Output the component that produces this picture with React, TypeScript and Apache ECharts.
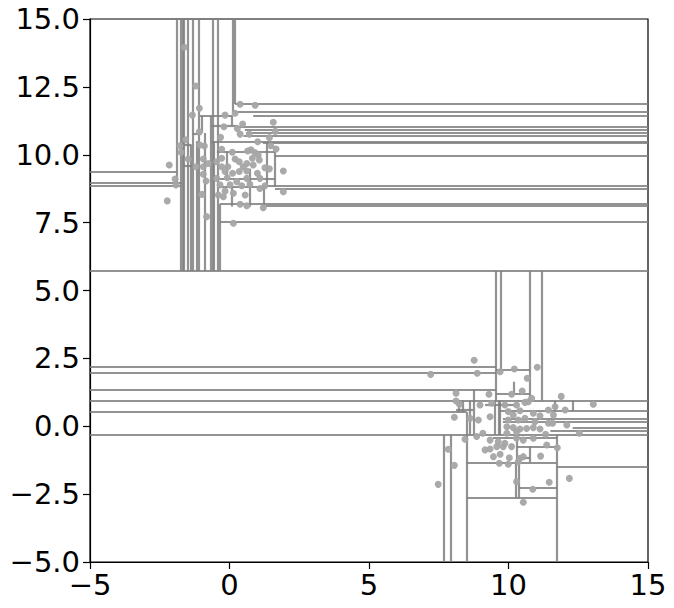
import React, { useEffect, useRef } from "react";
import * as echarts from "echarts";

// Isolation-forest style split lines: horizontal [y, x1, x2], vertical [x, y1, y2]
const hSplits: number[][] = [
  [5.72, -5, 15],
  // upper-left
  [9.38, -5, -1.89], [8.97, -5, -1.72], [8.85, -5, -1.75],
  // upper-right long
  [11.87, 0.2, 15], [11.58, 0.11, 15], [11.44, 0.85, 15], [11.02, 0.3, 15],
  [10.91, 0.55, 15], [10.81, 0.6, 15], [10.69, 0.5, 15], [10.48, 1.33, 15],
  [10.44, 1.2, 15], [9.95, 1.63, 15], [8.86, 1.2, 15], [8.75, 1.63, 15],
  [8.19, -0.34, 15], [8.11, 1.3, 15], [7.53, -0.34, 15],
  // upper internal
  [11.43, -1.06, 0.11], [11.06, -0.64, 0.3], [10.48, -0.64, 1.33],
  [10.11, -0.45, 1.63], [9.13, -0.45, 1.63], [8.82, -0.42, 1.2],
  [10.38, -1.7, -1.38], [10.76, -1.32, -1.0], [9.6, -1.63, -1.32],
  // lower-left
  [2.19, -5, 9.55], [1.97, -5, 9.55], [1.35, -5, 9.55], [0.94, -5, 15],
  [0.52, -5, 8.5], [-0.32, -5, 15],
  // lower internal / right
  [2.07, 9.55, 10.77], [1.19, 9.55, 10.77], [0.56, 9.7, 15], [0.27, 9.8, 15],
  [0.17, 9.8, 15], [-0.04, 12.3, 15], [-0.16, 11.5, 15], [-1.49, 11.73, 15],
  [-1.33, 8.5, 11.73], [-2.65, 8.5, 11.73], [-2.26, 10.38, 11.73],
  [0.78, 9.16, 10.23], [-0.43, 9.44, 11.73], [-0.75, 10.29, 11.73],
  [-1.17, 10.29, 10.77], [0.6, 8.12, 8.74],
];

const vSplits: number[][] = [
  // upper
  [-1.89, 8.85, 15], [-1.75, 5.72, 15], [-1.69, 5.72, 15], [-1.63, 5.72, 15],
  [-1.51, 5.72, 15], [-1.38, 5.72, 10.38], [-1.32, 5.72, 15], [-1.17, 5.72, 10.5],
  [-1.09, 5.72, 15], [-0.9, 5.72, 10.8], [-0.66, 5.72, 11.43], [-0.6, 5.72, 15],
  [-0.56, 5.72, 10.48], [-0.42, 5.72, 15], [-0.34, 5.72, 8.19], [0.11, 11.58, 15],
  [0.2, 11.87, 15],
  [1.33, 8.82, 10.48], [1.63, 8.82, 10.11], [0.73, 8.82, 9.49], [-0.1, 9.13, 10.11],
  [0.08, 8.09, 8.82], [0.73, 8.09, 8.82], [1.21, 8.09, 8.82], [0.08, 11.06, 11.43],
  [-1.0, 10.81, 11.43],
  // lower
  [9.55, 0.94, 5.72], [9.72, 2.07, 5.72], [10.77, 0.94, 5.72], [11.19, 0.94, 5.72],
  [10.2, 1.19, 1.64], [7.69, -5, -0.32], [7.93, -5, -0.32], [8.5, -5, 0.52],
  [11.73, -5, -0.32], [10.27, -2.65, -1.33], [10.38, -2.65, -1.33],
  [8.74, -0.32, 1.35], [9.52, -0.32, 0.94], [9.66, -0.32, 0.94], [9.7, -0.32, 0.94],
  [10.29, -1.33, -0.32], [10.77, -1.33, -0.75], [12.31, 0.56, 0.94], [11.67, 0.56, 0.94],
  [8.2, 0.52, 0.94], [8.35, 0.52, 0.94], [8.62, -0.32, 0.94],
];

const upperX = [
  -1.62, -1.21, -1.08, -1.33, 0.38, 0.92, 0.2, -0.16, 1.57, 0.47, -0.2, 0.28, 1.64, -1.08,
  -0.32, 0.38, 0.71, 1.01, 1.43, -1.57, -1.06, -0.9, -1.77, -0.28, 0.1, 0.65, 0.77, 0.91,
  1.03, 1.48, 1.67, -1.74, -1.48, -0.94, -0.28, 0.2, 0.35, 0.62, 0.82, 1.07, -0.76, -0.46,
  -2.16, -1.2, -0.94, -0.28, -0.06, 0.49, 0.85, 1.43, 1.93, -0.16, 0.11, 0.35, 0.62, 1.0,
  1.27, -0.94, -1.95, -0.84, -0.46, -0.08, 0.26, 0.62, 1.09, -1.92, -0.34, 0.02, 0.44, 0.73,
  1.09, 1.27, 1.93, -0.16, -0.99, -0.4, -0.22, 0.14, 0.56, -2.23, 0.38, 0.62, 1.21, -0.82, 0.14,
];
const upperY = [
  13.96, 12.53, 11.71, 11.46, 11.86, 11.82, 11.53, 11.46, 11.2, 11.13, 11.03, 10.97, 10.86, 10.85,
  10.64, 10.76, 10.76, 10.48, 10.63, 10.55, 10.36, 10.32, 10.33, 10.2, 10.09, 10.14, 10.18, 10.08,
  9.99, 10.33, 10.21, 10.09, 9.84, 9.84, 9.87, 9.84, 9.74, 9.68, 9.87, 9.81, 9.68, 9.74,
  9.62, 9.56, 9.56, 9.56, 9.56, 9.56, 9.62, 9.48, 9.4, 9.38, 9.32, 9.38, 9.4, 9.32,
  9.52, 9.28, 9.11, 9.03, 9.13, 9.15, 9.01, 9.13, 9.13, 8.89, 8.89, 8.89, 8.86, 8.91,
  8.76, 8.86, 8.64, 8.66, 8.54, 8.52, 8.45, 8.58, 8.52, 8.3, 8.18, 8.12, 8.05, 7.72, 7.48,
];
const lowerX = [
  8.77, 7.21, 8.88, 11.03, 10.21, 9.7, 10.67, 8.12, 9.3, 10.49, 10.11, 11.89, 10.83, 8.12,
  8.24, 8.98, 9.4, 9.87, 10.29, 10.59, 10.71, 11.43, 11.67, 12.03, 13.04, 8.06, 8.62, 8.92,
  9.34, 9.99, 10.17, 10.41, 10.89, 11.13, 11.61, 9.99, 10.35, 10.59, 10.95, 11.43, 11.58, 12.09,
  9.94, 10.17, 10.41, 10.65, 10.89, 11.13, 11.33, 12.54, 8.44, 8.86, 9.34, 9.63, 9.87, 10.29,
  10.53, 10.89, 11.37, 11.75, 7.84, 9.16, 9.34, 9.7, 10.03, 9.46, 10.41, 10.53, 11.15, 9.67,
  9.99, 10.35, 8.06, 12.18, 7.48, 10.29, 11.46, 10.87, 10.53, 9.81, 10.11, 9.58, 9.08, 9.94, 10.29,
];
const lowerY = [
  2.43, 1.91, 1.95, 2.17, 2.11, 2.01, 1.77, 1.22, 1.18, 1.3, 1.18, 1.1, 1.03, 0.93,
  0.81, 0.78, 0.85, 0.78, 0.78, 0.88, 0.9, 0.6, 0.72, 0.6, 0.81, 0.33, 0.29, 0.23,
  0.35, 0.54, 0.41, 0.57, 0.48, 0.39, 0.41, 0.23, 0.23, 0.29, 0.17, 0.11, 0.11, 0.05,
  -0.02, -0.05, -0.1, -0.08, -0.05, -0.1, -0.3, -0.26, -0.48, -0.38, -0.51, -0.57, -0.63, -0.44,
  -0.51, -0.44, -0.69, -0.79, -0.85, -0.87, -0.84, -1.03, -1.16, -1.12, -1.18, -1.12, -1.1, -1.36,
  -1.4, -1.31, -1.44, -1.92, -2.14, -2.04, -2.06, -2.32, -2.8, -0.75, -0.75, -0.75, -0.26, -0.26, -0.2,
];

const xTicks = [-5, 0, 5, 10, 15];
const yTicks = [-5, -2.5, 0, 2.5, 5, 7.5, 10, 12.5, 15];

export default function App() {
  const ref = useRef<HTMLDivElement>(null);
  useEffect(() => {
    if (!ref.current) return;
    const chart = echarts.init(ref.current, undefined, { renderer: "svg" });
    const segs = [
      ...hSplits.map(([y, x1, x2]) => ({ coords: [[x1, y], [x2, y]] })),
      ...vSplits.map(([x, y1, y2]) => ({ coords: [[x, y1], [x, y2]] })),
    ];
    const pts = [
      ...upperX.map((x, i) => [x, upperY[i]]),
      ...lowerX.map((x, i) => [x, lowerY[i]]),
    ];
    const fmt = (v: number, dec: number) => {
      const s = dec ? v.toFixed(dec) : String(v);
      return s.replace("-", "\u2212");
    };
    chart.setOption({
      animation: false,
      grid: {
        left: 90, top: 19, width: 558, height: 543,
        show: true, borderColor: "#000", borderWidth: 1.2, backgroundColor: "#fff",
      },
      xAxis: {
        type: "value", min: xTicks[0], max: xTicks[xTicks.length - 1], interval: 5,
        splitLine: { show: false },
        axisLine: { show: true, onZero: false, lineStyle: { color: "#000", width: 1.2 } },
        axisTick: { show: true, inside: false, length: 7, lineStyle: { color: "#000", width: 1.2 } },
        axisLabel: {
          fontSize: 29, color: "#000", fontFamily: "DejaVu Sans", margin: 8,
          formatter: (v: number) => fmt(v, 0),
        },
      },
      yAxis: {
        type: "value", min: yTicks[0], max: yTicks[yTicks.length - 1], interval: 2.5,
        splitLine: { show: false },
        axisLine: { show: true, onZero: false, lineStyle: { color: "#000", width: 1.2 } },
        axisTick: { show: true, inside: false, length: 7, lineStyle: { color: "#000", width: 1.2 } },
        axisLabel: {
          fontSize: 29, color: "#000", fontFamily: "DejaVu Sans", margin: 10,
          formatter: (v: number) => fmt(v, 1),
        },
      },
      series: [
        {
          type: "lines", coordinateSystem: "cartesian2d", z: 2, silent: true,
          lineStyle: { color: "rgb(128,128,128)", width: 2.2, opacity: 0.85 },
          data: segs,
        },
        {
          type: "scatter", z: 3, symbolSize: 7, silent: true,
          itemStyle: { color: "rgb(165,165,165)", opacity: 0.95 },
          data: pts,
        },
      ],
    });
    return () => chart.dispose();
  }, []);
  return (
    <div
      ref={ref}
      style={{ position: "absolute", left: 0, top: 0, width: 674, height: 608 }}
    />
  );
}
